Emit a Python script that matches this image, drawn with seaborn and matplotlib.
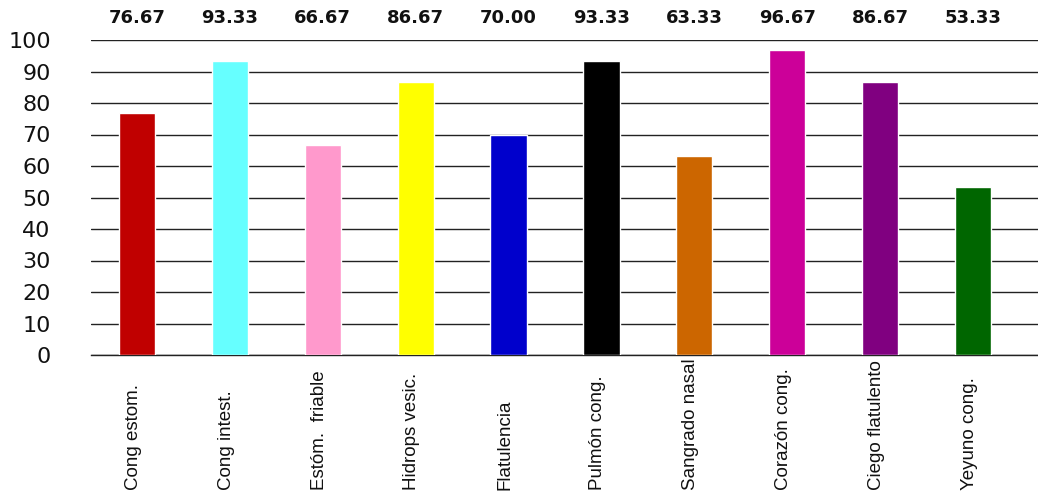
import matplotlib
matplotlib.use("Agg")
import matplotlib.pyplot as plt
import seaborn as sns
import pandas as pd

# chart data
categories = ["Cong estom.", "Cong intest.", "Estóm.  friable", "Hidrops vesic.", "Flatulencia",
              "Pulmón cong.", "Sangrado nasal", "Corazón cong.", "Ciego flatulento", "Yeyuno cong."]
values = [76.67, 93.33, 66.67, 86.67, 70.00, 93.33, 63.33, 96.67, 86.67, 53.33]
value_labels = ["76.67", "93.33", "66.67", "86.67", "70.00", "93.33", "63.33", "96.67", "86.67", "53.33"]
bar_colors = ["#C00000", "#66FFFF", "#FF99CC", "#FFFF00", "#0000CC",
              "#000000", "#CC6600", "#CC0099", "#800080", "#006600"]
y_ticks = [0, 10, 20, 30, 40, 50, 60, 70, 80, 90, 100]

df = pd.DataFrame({"cat": categories, "val": values})

sns.set_theme(style="white")
plt.rcParams["font.family"] = ["DejaVu Sans"]

fig = plt.figure(figsize=(10.38, 4.95), dpi=100)
ax = fig.add_axes([91 / 1038, 1 - 355 / 495, 1 - 91 / 1038, 315 / 495])

sns.barplot(data=df, x="cat", y="val", hue="cat", palette=bar_colors, legend=False,
            width=0.39, saturation=1, ax=ax, zorder=3)

ax.set_ylim(0, 100)
ax.set_xlim(-0.495, 9.7)
ax.set_yticks(y_ticks)
ax.set_yticklabels([str(t) for t in y_ticks], fontsize=16, color="#111111")
ax.tick_params(axis="y", length=0, pad=29)
ax.yaxis.grid(True, color="#222222", linewidth=1.0, zorder=0)
ax.set_axisbelow(True)
for s in ax.spines.values():
    s.set_visible(False)
# zero line sits on the axis edge, draw it as the bottom spine
ax.spines["bottom"].set_visible(True)
ax.spines["bottom"].set_color("#222222")
ax.spines["bottom"].set_linewidth(1.0)

ax.set_xticks(range(len(categories)))
ax.set_xticklabels([])
ax.tick_params(axis="x", length=0)
ax.set_xlabel("")
ax.set_ylabel("")

trans = ax.get_xaxis_transform()
for i, cat in enumerate(categories):
    ax.text(i - 0.04, -0.43, cat, transform=trans, rotation=90, ha="center", va="bottom",
            fontsize=13.5, family=["Liberation Sans", "DejaVu Sans"], color="#111111")
    ax.text(i, 1.07, value_labels[i], transform=trans, ha="center", va="center",
            fontsize=13, fontweight="bold", color="#111111", clip_on=False)

fig.savefig("out.png", dpi=100)
